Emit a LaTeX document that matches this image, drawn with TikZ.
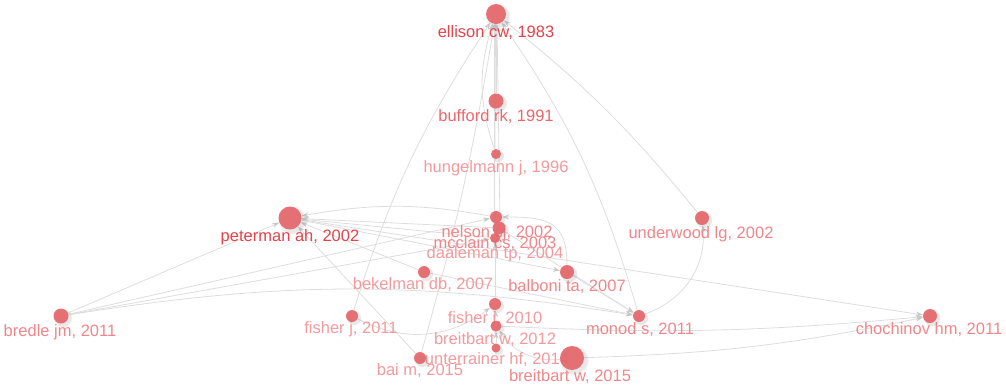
\documentclass[tikz,border=0pt]{standalone}
\usepackage{fontspec}
\setmainfont{Liberation Sans}
\usetikzlibrary{arrows.meta,shadows,backgrounds}
\definecolor{nodered}{HTML}{E5666B}
\definecolor{labdark}{HTML}{E5424B}
\definecolor{labmid}{HTML}{EC666C}
\definecolor{lablight}{HTML}{F0868A}
\definecolor{labpale}{HTML}{F39A9D}
\definecolor{edgegray}{HTML}{DDDDDD}
\definecolor{tipgray}{HTML}{C8C8C8}
\newcommand{\labsize}{\fontsize{16.5}{16.5}\selectfont}
\begin{document}
\begin{tikzpicture}[x=1pt,y=-1pt,
  dot/.style={circle, fill=nodered, fill opacity=0.92, inner sep=0pt, minimum size=#1,
    circular drop shadow={shadow xshift=1.5pt, shadow yshift=-1.5pt, shadow scale=1.25, opacity=0.18}},
  lab/.style={anchor=base, inner sep=0pt, font=\labsize, text=lablight},
  pale/.style={lab, text=labpale},
  edge/.style={draw=edgegray, line width=0.8pt,
    -{Stealth[length=7pt,width=5pt,fill=tipgray,color=tipgray]}}]
\useasboundingbox (0,0) rectangle (1006,384);

% labels (drawn below the dots)
\node[lab, text=labdark] (ell-l) at (496,37) {ellison cw, 1983};
\node[lab, text=labmid] (buf-l) at (496,121) {bufford rk, 1991};
\node[pale] (hun-l) at (496,172) {hungelmann j, 1996};
\node[lab] (nel-l) at (497,237) {nelson cj, 2002};
\node[lab] (mcc-l) at (495,248) {mcclain cs, 2003};
\node[pale] (daa-l) at (495,258) {daaleman tp, 2004};
\node[lab, text=labdark] (pet-l) at (290,241) {peterman ah, 2002};
\node[lab] (und-l) at (701,238) {underwood lg, 2002};
\node[pale] (bek-l) at (423,289) {bekelman db, 2007};
\node[lab] (bal-l) at (567,291) {balboni ta, 2007};
\node[lab] (bre-l) at (60,336) {bredle jm, 2011};
\node[pale] (fja-l) at (351,333) {fisher j, 2011};
\node[pale] (fjb-l) at (495,323) {fisher j, 2010};
\node[pale] (bwa-l) at (495,344) {breitbart w, 2012};
\node[pale] (unt-l) at (497,364) {unterrainer hf, 2014};
\node[pale] (bai-l) at (420,375) {bai m, 2015};
\node[lab] (bwb-l) at (570,381) {breitbart w, 2015};
\node[lab] (mon-l) at (640,334) {monod s, 2011};
\node[lab] (cho-l) at (929,334) {chochinov hm, 2011};

% dots
\node[dot=20pt] (ell) at (496,14) {};
\node[dot=15pt] (buf) at (496,101) {};
\node[dot=10pt] (hun) at (496,154) {};
\node[dot=12pt] (nel) at (496,217) {};
\node[dot=13pt] (mcc) at (499,228) {};
\node[dot=10pt] (daa) at (495,238) {};
\node[dot=23pt] (pet) at (290,218) {};
\node[dot=14pt] (und) at (702,218) {};
\node[dot=12pt] (bek) at (424,272) {};
\node[dot=14pt] (bal) at (567,272) {};
\node[dot=15pt] (bre) at (61,316) {};
\node[dot=12pt] (fja) at (352,316) {};
\node[dot=12pt] (fjb) at (495,304) {};
\node[dot=11pt] (bwa) at (496,326) {};
\node[dot=9pt] (unt) at (496,348) {};
\node[dot=12pt] (bai) at (420,358) {};
\node[dot=24pt] (bwb) at (572,358) {};
\node[dot=12pt] (mon) at (639,316) {};
\node[dot=14pt] (cho) at (930,316) {};

% connectors
\begin{scope}[on background layer]
\draw[edge] (buf) -- (ell);
\draw[edge] (hun) to[bend left=18] (ell);
\draw[edge] ([xshift=-1.5pt]nel.north) -- ([xshift=-1.5pt]ell.south);
\draw[edge] ([xshift=1pt]mcc.north) -- ([xshift=1pt]ell.south);
\draw[edge] ([xshift=-0.5pt]daa.north) -- ([xshift=-0.5pt]ell.south);
\draw[edge] (fja) to[bend left=8] (ell);
\draw[edge] (bai) to[bend right=3] (ell);
\draw[edge] (mon) to[bend right=9] (ell);
\draw[edge] (und) to[bend right=6] (ell);
\draw[edge] (mon) to[bend right=38] (und);
\draw[edge] (bre) -- (pet);
\draw[edge] (bre) -- (nel);
\draw[edge] (bre) -- (daa);
\draw[edge] (bre) to[bend left=9] (mon);
\draw[edge] (pet) -- (cho);
\draw[edge] (bwb) to[bend right=5] (cho);
\draw[edge] (bwa) to[bend right=4] (cho);
\draw[edge] (fja) to[bend right=32] (fjb);
\draw[edge] (nel) to[bend right=10] (pet);
\draw[edge] (mcc) -- (pet);
\draw[edge] (daa) -- (pet);
\draw[edge] (bek) -- (pet);
\draw[edge] (bai) -- (pet);
\draw[edge] (pet) -- (bal);
\draw[edge] (bal) -- (mon);
\draw[edge] (bal) to[out=90, in=0, looseness=1.4] (nel);
\draw[edge] (mcc) -- (mon);
\draw[edge] (bek) -- (mon);
\draw[edge] (fjb) -- (daa);
\draw[edge] (bwa) -- (fjb);
\draw[edge] (unt) -- (bwa);
\draw[edge] (bwb) to[bend left=30] (bwa);
\end{scope}
\end{tikzpicture}
\end{document}
